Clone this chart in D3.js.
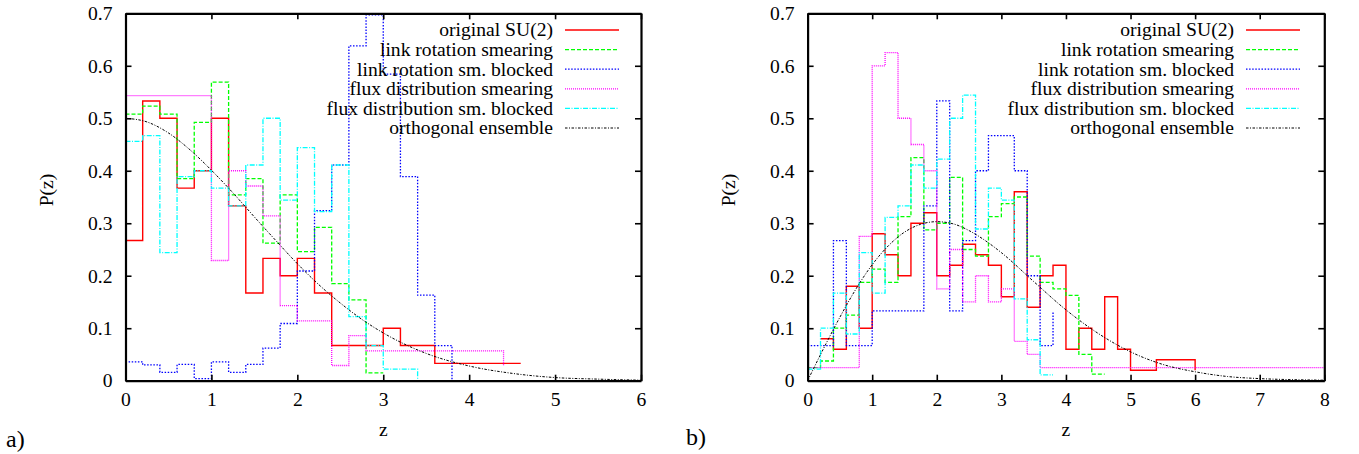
<!DOCTYPE html>
<html>
<head>
<meta charset="utf-8">
<script src="https://cdn.jsdelivr.net/npm/d3@7"></script>
<style>
  html, body { margin: 0; padding: 0; background: #fff; }
  svg { display: block; }
  text { font-family: "Liberation Serif", "Times New Roman", serif; fill: #000; }
</style>
</head>
<body>
<svg id="chart" width="1359" height="454"></svg>
<script>
// ---------------- data ----------------
const binWidth = 0.2;
const seriesNames = ["original SU(2)", "link rotation smearing", "link rotation sm. blocked",
  "flux distribution smearing", "flux distribution sm. blocked", "orthogonal ensemble"];

// panel a) histogram heights per 0.2-wide bin starting at z = 0 (last entry = closing level)
const aRed = [0.267,0.533,0.5,0.367,0.4,0.5,0.333,0.167,0.233,0.2,0.233,0.167,0.067,0.067,0.067,0.1,0.067,0.067,0.033,0.033,0.033,0.033,0.033,0.033];
const aGreen = [0.508,0.523,0.508,0.385,0.492,0.569,0.354,0.385,0.262,0.354,0.246,0.292,0.185,0.154,0.015,0.015];
const aBlue = [0.036,0.030,0.016,0.031,0.004,0.036,0.016,0.031,0.062,0.109,0.209,0.324,0.411,0.638,0.697,0.584,0.389,0.163,0.067,0.0];
const aMagenta = [0.543,0.543,0.543,0.543,0.543,0.229,0.4,0.371,0.314,0.143,0.114,0.114,0.029,0.086,0.057,0.057,0.057,0.057,0.057,0.057,0.057,0.057,0.029];
const aCyan = [0.456,0.467,0.244,0.389,0.4,0.367,0.333,0.411,0.5,0.344,0.444,0.322,0.411,0.122,0.067,0.022,0.022,0.0];
const aCurveZ = [0,0.25,0.5,0.75,1,1.25,1.5,1.75,2,2.25,2.5,2.75,3,3.5,4,4.5,5,5.5,6];
const aCurveP = [0.5,0.493,0.472,0.44,0.401,0.358,0.312,0.267,0.223,0.183,0.148,0.117,0.091,0.052,0.028,0.014,0.006,0.003,0.001];

// panel b)
const bRed = [null,0.08,0.06,0.18,0.10,0.28,0.24,0.20,0.30,0.32,0.20,0.22,0.26,0.24,0.22,0.16,0.36,0.14,0.20,0.22,0.06,0.10,0.06,0.16,0.06,0.02,0.02,0.04,0.04,0.04,0.02];
const bGreen = [0.025,0.0375,0.10,0.125,0.1875,0.2125,0.1875,0.3125,0.425,0.2875,0.30,0.3875,0.25,0.2375,0.3125,0.3375,0.35,0.2375,0.1875,0.175,0.1625,0.05,0.0125,0.0125];
const bBlue = [0.067,0.067,0.267,0.067,0.067,0.133,0.133,0.133,0.133,0.333,0.533,0.133,0.267,0.40,0.467,0.467,0.40,0.20,0.067,0.133];
const bMagenta = [0.025,0.025,0.025,0.025,0.275,0.6,0.625,0.5,0.45,0.4,0.175,0.25,0.15,0.2,0.15,0.175,0.075,0.05,
  0.025,0.025,0.025,0.025,0.025,0.025,0.025,0.025,0.025,0.025,0.025,0.025,0.025,0.025,0.025,0.025,0.025,0.025,0.025,0.025,0.025,0.025,0.025];
const bCyan = [0.022,0.10,0.167,0.089,0.244,0.167,0.311,0.333,0.411,0.367,0.422,0.50,0.544,0.289,0.367,0.344,0.156,0.078,0.011,0.011];
const bCurveZ = [0,0.25,0.5,0.75,1,1.25,1.5,1.75,2,2.25,2.5,2.75,3,3.5,4,4.5,5,5.5,6,6.5,7,7.5,8];
const bCurveP = [0,0.062,0.121,0.175,0.221,0.257,0.283,0.298,0.303,0.299,0.286,0.267,0.244,0.189,0.135,0.090,0.055,0.031,0.017,0.008,0.004,0.002,0.001];

const yTicks = [0,0.1,0.2,0.3,0.4,0.5,0.6,0.7];
const aXTicks = [0,1,2,3,4,5,6];
const bXTicks = [0,1,2,3,4,5,6,7,8];

// ---------------- styles ----------------
const styles = [
  {color: "#ff0000", dash: null, w: 1.4},
  {color: "#00ff00", dash: "4,2", w: 1.3},
  {color: "#0000ff", dash: "1.5,1.6", w: 1.3},
  {color: "#ff00ff", dash: "1,1", w: 1.3},
  {color: "#00ffff", dash: "5,1.5,1,1.5", w: 1.3},
  {color: "#000000", dash: "2.5,1.5,1,1.5", w: 1.0}
];

const svg = d3.select("#chart");
const FS = 19.6;
const FONT = "Liberation Serif";

function drawPanel(cfg) {
  const x = d3.scaleLinear().domain(cfg.xDomain).range(cfg.xRange);
  const y = d3.scaleLinear().domain([0, 0.7]).range([380.7, 13.3]);
  const g = svg.append("g");

  const hists = [cfg.red, cfg.green, cfg.blue, cfg.magenta, cfg.cyan];
  const step = d3.line()
    .defined(d => d.p != null)
    .x(d => x(d.z)).y(d => y(d.p))
    .curve(d3.curveStepAfter);
  hists.forEach((vals, k) => {
    const pts = vals.map((p, i) => ({z: i * binWidth, p}));
    g.append("path").attr("d", step(pts))
      .attr("fill", "none").attr("stroke", styles[k].color)
      .attr("stroke-width", styles[k].w)
      .attr("stroke-dasharray", styles[k].dash);
  });
  const curvePts = cfg.curveZ.map((z, i) => ({z, p: cfg.curveP[i]}));
  g.append("path")
    .attr("d", d3.line().x(d => x(d.z)).y(d => y(d.p)).curve(d3.curveMonotoneX)(curvePts))
    .attr("fill", "none").attr("stroke", styles[5].color)
    .attr("stroke-width", styles[5].w).attr("stroke-dasharray", styles[5].dash);

  // axes (frame with inward ticks)
  const [x0, x1] = cfg.xRange, yb = 380.7, yt = 13.3;
  const fmtY = d => d === 0 ? "0" : d3.format(".1f")(d);
  const bottom = g.append("g").attr("transform", `translate(0,${yb})`)
    .call(d3.axisBottom(x).tickValues(cfg.xTicks).tickSize(-6).tickSizeOuter(0).tickPadding(11).tickFormat(d3.format("d")));
  const top = g.append("g").attr("transform", `translate(0,${yt})`)
    .call(d3.axisTop(x).tickValues(cfg.xTicks).tickSize(-6).tickSizeOuter(0).tickFormat(""));
  const left = g.append("g").attr("transform", `translate(${x0},0)`)
    .call(d3.axisLeft(y).tickValues(yTicks).tickSize(-6).tickSizeOuter(0).tickPadding(13).tickFormat(fmtY));
  const right = g.append("g").attr("transform", `translate(${x1},0)`)
    .call(d3.axisRight(y).tickValues(yTicks).tickSize(-6).tickSizeOuter(0).tickFormat(""));
  [bottom, top, left, right].forEach(a => {
    a.attr("font-family", FONT);
    a.select(".domain").attr("stroke", "#000").attr("stroke-width", 2.2);
    a.selectAll(".tick line").attr("stroke", "#000").attr("stroke-width", 1.6);
    a.selectAll("text").attr("font-family", FONT).attr("font-size", FS).attr("fill", "#000");
  });

  // axis titles
  g.append("text").attr("x", (x0 + x1) / 2).attr("y", 436).attr("text-anchor", "middle")
    .attr("font-family", FONT).attr("font-size", FS).text("z");
  g.append("text").attr("transform", `translate(${cfg.ylabX},190) rotate(-90)`)
    .attr("text-anchor", "middle").attr("dy", "0.35em")
    .attr("font-family", FONT).attr("font-size", FS).text("P(z)");
  g.append("text").attr("x", cfg.tagX).attr("y", cfg.tagY)
    .attr("font-family", FONT).attr("font-size", 24).text(cfg.tag);

  // legend
  const lg = g.append("g");
  seriesNames.forEach((name, i) => {
    const yy = 30 + 19.6 * i;
    lg.append("text").attr("x", cfg.legTextX).attr("y", yy).attr("dy", "0.33em")
      .attr("text-anchor", "end").attr("font-family", FONT).attr("font-size", FS).text(name);
    lg.append("line").attr("x1", cfg.legTextX + 12).attr("x2", cfg.legTextX + 66)
      .attr("y1", yy).attr("y2", yy)
      .attr("stroke", styles[i].color).attr("stroke-width", styles[i].w)
      .attr("stroke-dasharray", styles[i].dash);
  });
}

drawPanel({xDomain: [0, 6], xRange: [125.5, 641], xTicks: aXTicks,
  red: aRed, green: aGreen, blue: aBlue, magenta: aMagenta, cyan: aCyan,
  curveZ: aCurveZ, curveP: aCurveP, ylabX: 46, tag: "a)", tagX: 6, tagY: 447, legTextX: 553});
drawPanel({xDomain: [0, 8], xRange: [807.6, 1324.3], xTicks: bXTicks,
  red: bRed, green: bGreen, blue: bBlue, magenta: bMagenta, cyan: bCyan,
  curveZ: bCurveZ, curveP: bCurveP, ylabX: 728, tag: "b)", tagX: 686, tagY: 445, legTextX: 1234});
</script>
</body>
</html>
